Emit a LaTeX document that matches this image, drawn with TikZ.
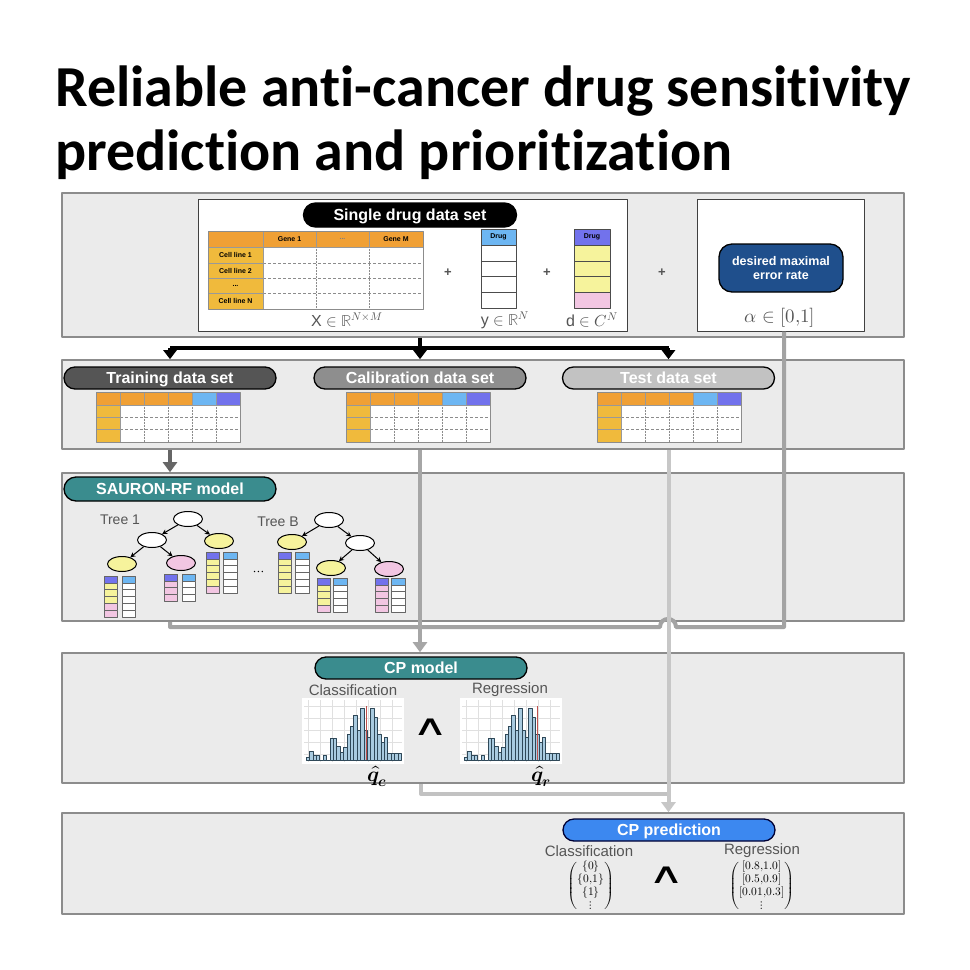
\documentclass[tikz,border=0pt]{standalone}
\usepackage{amsmath}
\usepackage{fontspec}
\usepackage{unicode-math}
\setmathfont{Latin Modern Math}
\setsansfont{Liberation Sans}
\newfontfamily\titlefont[Ligatures=NoCommon]{Carlito}
\newfontfamily\andfont{DejaVu Sans}
\usepackage{tikz}
\usetikzlibrary{arrows.meta,shapes.geometric}

\definecolor{panelfill}{HTML}{EBEBEB}
\definecolor{paneldraw}{HTML}{8C8C8C}
\definecolor{hdrorange}{HTML}{F0A035}
\definecolor{rowgold}{HTML}{F0BA3C}
\definecolor{drugblue}{HTML}{6DB6F2}
\definecolor{drugpurple}{HTML}{7272EC}
\definecolor{leafyellow}{HTML}{F6F39C}
\definecolor{leafpink}{HTML}{F2C6E2}
\definecolor{trainfill}{HTML}{555555}
\definecolor{calibfill}{HTML}{8E8E8E}
\definecolor{testfill}{HTML}{C2C2C2}
\definecolor{tealfill}{HTML}{3A8C8E}
\definecolor{alphafill}{HTML}{1F4F8C}
\definecolor{predfill}{HTML}{3C88F0}
\definecolor{labelgray}{HTML}{555555}
\definecolor{histbarfill}{HTML}{A9CBE0}
\definecolor{histbardraw}{HTML}{2F4858}
\definecolor{histred}{HTML}{C0504D}

% small split table: header row + 3 rows, 6 columns
\newcommand{\minitable}[1]{%
  \begin{scope}[shift={#1}]
    \fill[hdrorange] (0,0) rectangle (96,13);
    \fill[drugblue] (96,0) rectangle (120,13);
    \fill[drugpurple] (120,0) rectangle (144,13);
    \fill[rowgold] (0,13) rectangle (24,50);
    \fill[white] (24,13) rectangle (144,50);
    \foreach \r in {25.3,37.6} \draw[gridgray,densely dashed] (24,\r) -- (144,\r);
    \foreach \c in {48,72,96,120} \draw[gridgray,densely dotted] (\c,13) -- (\c,50);
    \foreach \c in {24,48,72,96,120} \draw[cellline] (\c,0) -- (\c,13);
    \foreach \r in {25.3,37.6} \draw[cellline] (0,\r) -- (24,\r);
    \draw[cellline] (0,13) -- (144,13) (24,13) -- (24,50);
    \draw[gridgray] (0,0) rectangle (144,50);
  \end{scope}}

% one column of a leaf: x, top y, list of cell colours
\newcommand{\leafcol}[3]{%
  \foreach \lc [count=\li from 0] in {#3}
    \filldraw[leafcell,fill=\lc] (#1,{#2+6.8*\li}) rectangle ++(13.5,6.8);}

% histogram panel: top left, position of the red quantile line
\newcommand{\cphist}[2]{%
  \begin{scope}[shift={#1}]
    \fill[white] (0,0) rectangle (102,66);
    \foreach \g in {6,18,...,90} \draw[histgrid] (\g,2) -- (\g,64);
    \foreach \g in {8,20,...,56} \draw[histgrid] (2,\g) -- (100,\g);
    \foreach \h [count=\i from 0] in {3,9,5,5,0,5,0,22,22,14,8,13,26,34,45,30,52,30,23,52,43,26,18,23,7,7,7,7}
      \filldraw[histbar] ({4+3.4*\i},62) rectangle ++(3.4,-\h);
    \draw[histline] (#2,8) -- (#2,62);
  \end{scope}}

\newcommand{\andsign}{\scalebox{1.3}[0.75]{∧}}

\begin{document}
\begin{tikzpicture}[x=1pt,y=-1pt,line join=round,
  panel/.style={draw=paneldraw,fill=panelfill,line width=1.6pt,minimum width=842pt,inner sep=0pt},
  whitebox/.style={draw=black!75,fill=white,line width=1pt,inner sep=0pt},
  pillbase/.style={draw=black,line width=1.3pt,inner sep=0pt,text=white},
  pill/.style={pillbase,rounded corners=11pt,minimum width=212pt,minimum height=22pt,text height=11.5pt,text depth=0pt,font=\sffamily\bfseries\fontsize{16}{16}\selectfont},
  titletext/.style={inner sep=0pt,font=\titlefont\bfseries\fontsize{58}{60}\selectfont},
  tabtext/.style={font=\sffamily\bfseries\fontsize{7}{7}\selectfont,inner sep=0pt},
  mathlabel/.style={text=labelgray,font=\fontsize{16}{16}\selectfont,inner sep=0pt},
  graylabel/.style={text=labelgray,font=\sffamily\fontsize{15}{15}\selectfont,inner sep=0pt},
  plussign/.style={text=labelgray,font=\sffamily\bfseries\fontsize{13}{13}\selectfont,inner sep=0pt},
  andnode/.style={inner sep=0pt,font=\andfont\fontsize{38}{38}\selectfont},
  setmatrix/.style={anchor=north,inner sep=0pt,font=\fontsize{11.5}{13}\selectfont},
  treenode/.style={ellipse,draw=black,line width=1pt,minimum width=29pt,minimum height=15pt,inner sep=0pt},
  treeedge/.style={-{Stealth[length=5pt,width=5pt]},line width=1pt},
  leafcell/.style={draw=black!60,line width=0.6pt},
  gridgray/.style={draw=black!45,line width=0.5pt},
  cellline/.style={draw=black!40,line width=0.5pt},
  histgrid/.style={draw=black!12,line width=0.4pt},
  histbar/.style={fill=histbarfill,draw=histbardraw,line width=0.5pt},
  histline/.style={draw=histred,line width=1pt},
  splitline/.style={line width=3.6pt,-{Triangle[length=9pt,width=13pt]}},
  flowline/.style={line width=4pt,-{Triangle[length=10pt,width=14pt]}},
]
\fill[white] (0,0) rectangle (970,970);
\useasboundingbox (0,0) rectangle (970,970);

% title
\node[titletext,anchor=base west] (titleA) at (55,106) {Reliable anti-cancer drug sensitivity};
\node[titletext,anchor=base west] (titleB) at (55,170) {prediction and prioritization};

% panels
\node[panel,minimum height=144pt] (inputpanel) at (483,265) {};
\node[panel,minimum height=89pt] (splitpanel) at (483,404.5) {};
\node[panel,minimum height=148pt] (modelpanel) at (483,547) {};
\node[panel,minimum height=130pt] (cppanel) at (483,718) {};
\node[panel,minimum height=101pt] (predpanel) at (483,863.5) {};

% input data
\node[whitebox,minimum width=429pt,minimum height=132pt] (datawhite) at (412.5,265) {};
\node[whitebox,minimum width=167pt,minimum height=132pt] (alphawhite) at (780.5,265) {};
\node[pill,fill=black,minimum width=213pt,minimum height=24pt,rounded corners=12pt] (singlepill) at (410,215) {Single drug data set};

\fill[hdrorange] (208,231) rectangle (423,247);
\fill[rowgold] (208,247) rectangle (263,309);
\fill[white] (263,247) rectangle (423,309);
\foreach \r in {263,278,293} \draw[gridgray,densely dashed] (263,\r) -- (423,\r);
\foreach \c in {316,369} \draw[gridgray,densely dotted] (\c,247) -- (\c,309);
\foreach \r in {263,278,293} \draw[cellline] (208,\r) -- (263,\r);
\foreach \c in {263,316,369} \draw[cellline] (\c,231) -- (\c,247);
\draw[cellline] (208,247) -- (423,247) (263,247) -- (263,309);
\draw[gridgray] (208,231) rectangle (423,309);
\node[tabtext] (gene1) at (289.5,239) {Gene 1};
\node[tabtext,text=black!50] (genedots) at (342.5,239) {...};
\node[tabtext] (geneM) at (396,239) {Gene M};
\node[tabtext] (cell1) at (235.5,255) {Cell line 1};
\node[tabtext] (cell2) at (235.5,270.5) {Cell line 2};
\node[tabtext] (celldots) at (235.5,285.5) {...};
\node[tabtext] (cellN) at (235.5,301) {Cell line N};
\node[mathlabel] (xlabel) at (347,320) {$\mathsf{X}\in\mathbb{R}^{N\times M}$};

\node[plussign] (plusA) at (448,273) {+};
\filldraw[fill=drugblue,draw=black!70] (481,229) rectangle (516,245);
\foreach \r in {245,260.75,276.5,292.25} \filldraw[fill=white,draw=black!70] (481,\r) rectangle (516,{\r+15.75});
\node[tabtext] (ydrug) at (498.5,237) {Drug};
\node[mathlabel] (ylabel) at (505,320) {$\mathsf{y}\in\mathbb{R}^{N}$};

\node[plussign] (plusB) at (547,273) {+};
\filldraw[fill=drugpurple,draw=black!70] (574,229) rectangle (610,245);
\foreach \r/\cc in {245/leafyellow,260.75/leafyellow,276.5/leafyellow,292.25/leafpink}
  \filldraw[fill=\cc,draw=black!70] (574,\r) rectangle (610,{\r+15.75});
\node[tabtext] (ddrug) at (592,237) {Drug};
\node[mathlabel] (dlabel) at (592,320) {$\mathsf{d}\in C^{N}$};

\node[plussign] (plusC) at (662,273) {+};
\node[pillbase,fill=alphafill,minimum width=124pt,minimum height=48pt,rounded corners=13pt,align=center,font=\sffamily\bfseries\fontsize{12.5}{14}\selectfont] (alphapill) at (781,268) {desired maximal\\error rate};
\node[mathlabel,font=\fontsize{19}{19}\selectfont] (alphalabel) at (780,318) {$\alpha\in[0{,}1]$};

% data split
\node[pill,fill=trainfill] (trainpill) at (170,378) {Training data set};
\node[pill,fill=calibfill] (calibpill) at (420,378) {Calibration data set};
\node[pill,fill=testfill] (testpill) at (668.5,378) {Test data set};
\minitable{(96,392)}
\minitable{(346,392)}
\minitable{(597,392)}

% random forest
\node[pill,fill=tealfill,minimum height=24pt,rounded corners=12pt] (rfpill) at (170,489) {SAURON-RF model};
\node[graylabel,font=\sffamily\fontsize{14}{14}\selectfont] (tree1label) at (120,520) {Tree 1};
\node[graylabel,font=\sffamily\fontsize{14}{14}\selectfont] (treeBlabel) at (278,522) {Tree B};
\node[font=\fontsize{14}{14}\selectfont] (leafdots) at (259,573) {$\cdots$};

\node[treenode,fill=white] (t1root) at (188,519) {};
\node[treenode,fill=white] (t1l) at (152,540) {};
\node[treenode,fill=leafyellow] (t1r) at (219,541) {};
\node[treenode,fill=leafyellow] (t1ll) at (122,564) {};
\node[treenode,fill=leafpink] (t1lr) at (181,563) {};
\draw[treeedge] (t1root) -- (t1l);
\draw[treeedge] (t1root) -- (t1r);
\draw[treeedge] (t1l) -- (t1ll);
\draw[treeedge] (t1l) -- (t1lr);

\node[treenode,fill=white] (tBroot) at (329,520) {};
\node[treenode,fill=leafyellow] (tBl) at (292,542) {};
\node[treenode,fill=white] (tBr) at (360,543) {};
\node[treenode,fill=leafyellow] (tBrl) at (331,568) {};
\node[treenode,fill=leafpink] (tBrr) at (389,569) {};
\draw[treeedge] (tBroot) -- (tBl);
\draw[treeedge] (tBroot) -- (tBr);
\draw[treeedge] (tBr) -- (tBrl);
\draw[treeedge] (tBr) -- (tBrr);

\leafcol{104}{576}{drugpurple,leafyellow,leafyellow,leafyellow,leafpink,leafpink}
\leafcol{122}{576}{drugblue,white,white,white,white,white}
\leafcol{164}{574}{drugpurple,leafpink,leafpink,leafpink}
\leafcol{182}{574}{drugblue,white,white,white}
\leafcol{206}{552}{drugpurple,leafyellow,leafyellow,leafyellow,leafyellow,leafpink}
\leafcol{223.5}{552}{drugblue,white,white,white,white,white}
\leafcol{278}{552}{drugpurple,leafyellow,leafyellow,leafyellow,leafyellow,leafyellow}
\leafcol{295.5}{552}{drugblue,white,white,white,white,white}
\leafcol{317}{578}{drugpurple,leafyellow,leafyellow,leafyellow,leafpink}
\leafcol{333.5}{578}{drugblue,white,white,white,white}
\leafcol{375}{578}{drugpurple,leafpink,leafpink,leafpink,leafpink}
\leafcol{391.5}{578}{drugblue,white,white,white,white}

% conformal model
\node[pill,fill=tealfill] (cppill) at (421,668) {CP model};
\node[graylabel] (classlabel) at (353,690) {Classification};
\node[graylabel] (reglabel) at (510,690) {Regression};
\cphist{(302,698)}{64}
\cphist{(460,698)}{77}
\node[andnode] (andA) at (431,727) {\andsign};
\node[font=\fontsize{21}{21}\selectfont,inner sep=0pt] (qc) at (377,776) {$\symbfit{\hat{q}}_{\symbfit{c}}$};
\node[font=\fontsize{21}{21}\selectfont,inner sep=0pt] (qr) at (541,776) {$\symbfit{\hat{q}}_{\symbfit{r}}$};

% prediction
\node[pill,fill=predfill,draw=black!80!blue] (predpill) at (669,830) {CP prediction};
\node[graylabel] (predclass) at (589,851) {Classification};
\node[graylabel] (predreg) at (762,851) {Regression};
\node[setmatrix] (classset) at (591,860) {$\begin{pmatrix}\{0\}\\\{0{,}1\}\\\{1\}\\\vdots\end{pmatrix}$};
\node[andnode] (andB) at (667,875) {\andsign};
\node[setmatrix] (regset) at (762,860) {$\begin{pmatrix}[0.8{,}1.0]\\{}[0.5{,}0.9]\\{}[0.01{,}0.3]\\\vdots\end{pmatrix}$};

% connectors
\coordinate (splitbar) at (420,348);
\coordinate (alphacorner) at (784,627);
\coordinate (hopright) at (676,627);
\coordinate (hopleft) at (660,627);
\coordinate (modelcorner) at (170,627);
\coordinate (cpjoin) at (668.5,794);

\draw[splitline,-] (splitbar -| trainpill) -- (splitbar -| testpill);
\draw[splitline] (inputpanel.south -| calibpill) -- (splitpanel.north -| calibpill);
\draw[splitline] (splitbar -| trainpill) -- (splitpanel.north -| trainpill);
\draw[splitline] (splitbar -| testpill) -- (splitpanel.north -| testpill);

\draw[flowline,draw=black!60] (splitpanel.south -| trainpill) -- (modelpanel.north -| trainpill);
\draw[flowline,-,draw=black!36] (alphawhite.south -| alphacorner) -- (alphacorner) -- (hopright)
  .. controls (676,616.3) and (660,616.3) .. (hopleft) -- (modelcorner) -- (modelpanel.south -| modelcorner);
\draw[flowline,draw=black!35] (splitpanel.south -| calibpill) -- (cppanel.north -| calibpill);
\draw[flowline,-,draw=black!24] (cppanel.south -| cppill) |- (cpjoin);
\draw[flowline,draw=black!22] (splitpanel.south -| testpill) -- (predpanel.north -| testpill);
\end{tikzpicture}
\end{document}
